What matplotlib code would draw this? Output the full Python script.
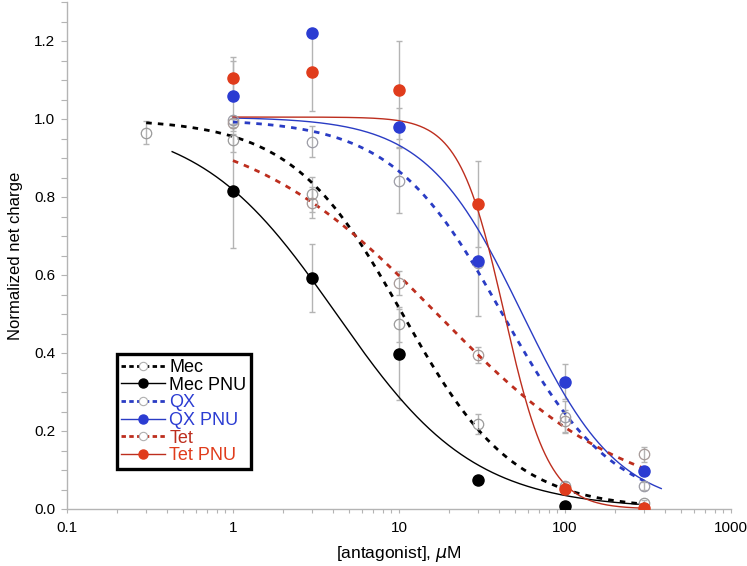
import numpy as np
import matplotlib.pyplot as plt
from matplotlib.lines import Line2D
from matplotlib.ticker import FixedLocator, FixedFormatter, MultipleLocator, FormatStrFormatter

plt.rcParams['font.family'] = ['Liberation Sans', 'DejaVu Sans']

# measured points (concentration in uM, normalized net charge, error bar half-width)
mec_conc = [0.3, 1, 3, 10, 30, 100, 300]
mec = [0.965, 0.946, 0.807, 0.474, 0.218, 0.06, 0.015]
mec_err = [0.03, 0.03, 0.045, 0.045, 0.025, 0.01, 0.008]

mec_pnu_conc = [1, 3, 10, 30, 100]
mec_pnu = [0.815, 0.592, 0.397, 0.074, 0.007]
mec_pnu_err = [0.147, 0.088, 0.117, 0.0, 0.0]

qx_conc = [1, 3, 10, 30, 100, 300]
qx = [0.997, 0.942, 0.842, 0.632, 0.237, 0.059]
qx_err = [0.01, 0.04, 0.083, 0.0, 0.04, 0.01]

qx_pnu_conc = [1, 3, 10, 30, 100, 300]
qx_pnu = [1.059, 1.22, 0.979, 0.635, 0.326, 0.098]
qx_pnu_err = [0.09, 0.0, 0.05, 0.14, 0.045, 0.01]

tet_conc = [1, 3, 10, 30, 100, 300]
tet = [0.989, 0.785, 0.579, 0.395, 0.225, 0.14]
tet_err = [0.01, 0.04, 0.03, 0.02, 0.03, 0.02]

tet_pnu_conc = [1, 3, 10, 30, 100, 300]
tet_pnu = [1.104, 1.12, 1.074, 0.782, 0.052, 0.003]
tet_pnu_err = [0.055, 0.1, 0.125, 0.11, 0.01, 0.005]

# Hill fits drawn through the data: order Mec, Mec PNU, QX, QX PNU, Tet, Tet PNU
labels = ["Mec", "Mec PNU", "QX", "QX PNU", "Tet", "Tet PNU"]
fit_ic50 = [10.5, 4.2, 42, 55, 17, 43]
fit_hill = [1.3, 1.05, 1.3, 1.5, 0.75, 3.2]
fit_top = [1.0, 1.0, 1.0, 1.005, 1.0, 1.005]
fit_from = [0.3, 0.43, 1, 1, 1, 1]
fit_to = [300, 300, 300, 380, 300, 300]

x_ticks = [0.1, 1, 10, 100, 1000]
x_ticklabels = ["0.1", "1", "10", "100", "1000"]

BLUE = "#2b3cd2"
RED = "#e03c1c"
RED_LINE = "#bd2e1e"
BLUE_LINE = "#2a3cc4"
GRAY = "#b4b4b4"

line_colors = ["black", "black", BLUE_LINE, BLUE_LINE, RED_LINE, RED_LINE]
dashed = [True, False, True, False, True, False]

fig = plt.figure(figsize=(7.47, 5.66), dpi=100)
ax = fig.add_axes([67 / 747, 57 / 566, 664 / 747, 507 / 566])
ax.set_xscale("log")

for i in range(6):
    xs = np.logspace(np.log10(fit_from[i]), np.log10(fit_to[i]), 300)
    ys = fit_top[i] / (1 + (xs / fit_ic50[i]) ** fit_hill[i])
    if dashed[i]:
        ax.plot(xs, ys, color=line_colors[i], lw=2.0, dashes=(2.0, 2.2), zorder=2)
    else:
        ax.plot(xs, ys, color=line_colors[i], lw=1.0, zorder=2)

open_sets = [(mec_conc, mec, mec_err, "#9a9a9a"),
             (qx_conc, qx, qx_err, "#9c9ca6"),
             (tet_conc, tet, tet_err, "#a69a98")]
filled_sets = [(mec_pnu_conc, mec_pnu, mec_pnu_err, "black"),
               (qx_pnu_conc, qx_pnu, qx_pnu_err, BLUE),
               (tet_pnu_conc, tet_pnu, tet_pnu_err, RED)]

for xs, ys, err, c in open_sets + filled_sets:
    ax.errorbar(xs, ys, yerr=err, fmt="none", ecolor=GRAY, elinewidth=1.0,
                capsize=2.5, capthick=1.0, zorder=1)

for xs, ys, err, c in open_sets:
    ax.plot(xs, ys, "o", ms=7.5, mfc="none", mec=c, mew=0.9, zorder=3)
for xs, ys, err, c in filled_sets:
    ax.plot(xs, ys, "o", ms=8, color=c, mec=c, zorder=4)

ax.set_xlim(0.1, 1000)
ax.set_ylim(0, 1.3)
ax.xaxis.set_major_locator(FixedLocator(x_ticks))
ax.xaxis.set_major_formatter(FixedFormatter(x_ticklabels))
minor = [m * 10.0 ** e for e in range(-1, 3) for m in range(2, 10)]
ax.xaxis.set_minor_locator(FixedLocator(minor))
ax.xaxis.set_minor_formatter(FixedFormatter([""] * len(minor)))
ax.yaxis.set_major_locator(MultipleLocator(0.2))
ax.yaxis.set_minor_locator(MultipleLocator(0.05))
ax.yaxis.set_major_formatter(FormatStrFormatter("%.1f"))

for s in ["top", "right"]:
    ax.spines[s].set_visible(False)
for s in ["left", "bottom"]:
    ax.spines[s].set_color(GRAY)
    ax.spines[s].set_linewidth(1.0)
ax.tick_params(which="both", color=GRAY, width=0.8, labelsize=11)
ax.tick_params(axis="y", which="both", length=4.5, pad=4)
ax.tick_params(axis="x", which="both", length=3, pad=6)

ax.set_ylabel("Normalized net charge", fontsize=12, labelpad=8)
ax.set_xlabel(r"[antagonist], $\mu$M", fontsize=12.5, labelpad=6)

handles = []
text_colors = ["black", "black", BLUE, BLUE, RED_LINE, RED]
marker_colors = ["black", "black", BLUE, BLUE, RED, RED]
for i in range(6):
    if dashed[i]:
        h = Line2D([], [], color=line_colors[i], lw=2.0, dashes=(1.6, 1.2), marker="o",
                   ms=6, mfc="white", mec="#b0b0b0", mew=0.8)
    else:
        h = Line2D([], [], color=line_colors[i], lw=1.0, marker="o", ms=6.5,
                   mfc=marker_colors[i], mec=marker_colors[i])
    handles.append(h)

leg = ax.legend(handles, labels, loc="lower left", bbox_to_anchor=(0.075, 0.079),
                borderaxespad=0, fontsize=13, handlelength=2.4, handletextpad=0.25,
                labelspacing=0.04, borderpad=0.25, fancybox=False, framealpha=1,
                edgecolor="black")
leg.get_frame().set_linewidth(2.4)
for t, c in zip(leg.get_texts(), text_colors):
    t.set_color(c)

fig.savefig("out.png", dpi=100)
